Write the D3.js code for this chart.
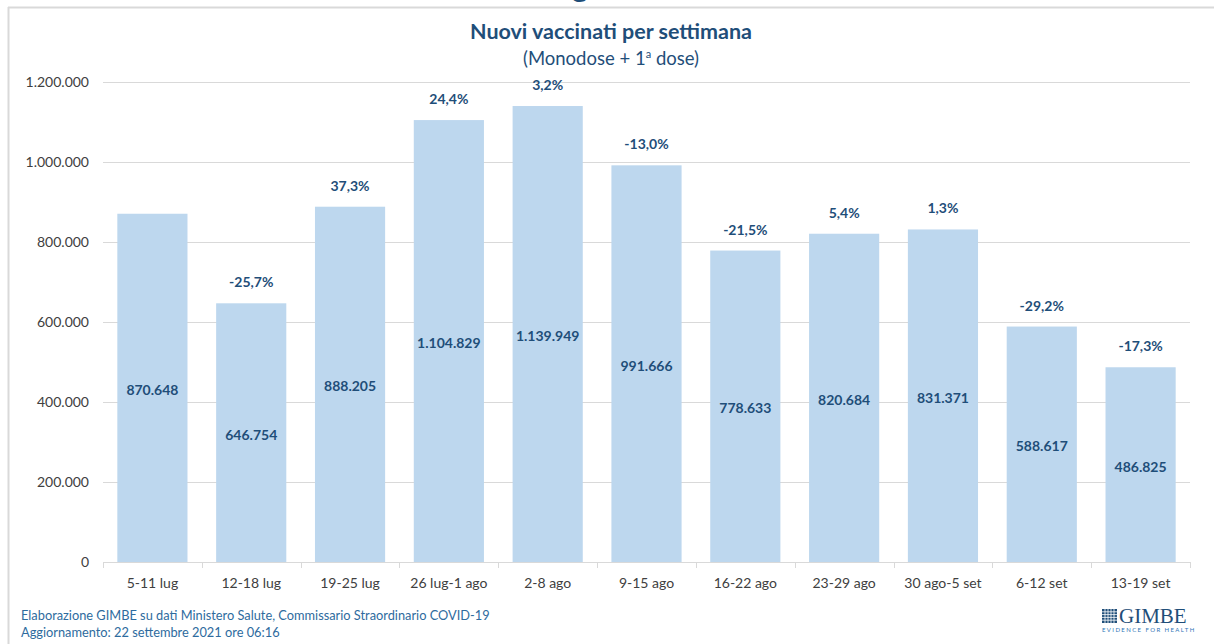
<!DOCTYPE html>
<html>
<head>
<meta charset="utf-8">
<script src="https://cdn.jsdelivr.net/npm/d3@7"></script>
<style>
  body { margin: 0; background: #fff; }
  text { font-family: Lato, "Open Sans", sans-serif; }
</style>
</head>
<body>
<div id="chart"></div>
<script>
const weeks = ['5-11 lug', '12-18 lug', '19-25 lug', '26 lug-1 ago', '2-8 ago', '9-15 ago', '16-22 ago', '23-29 ago', '30 ago-5 set', '6-12 set', '13-19 set'];
const vaccinated = [870648, 646754, 888205, 1104829, 1139949, 991666, 778633, 820684, 831371, 588617, 486825];
const changes = ['', '-25,7%', '37,3%', '24,4%', '3,2%', '-13,0%', '-21,5%', '5,4%', '1,3%', '-29,2%', '-17,3%'];
const yTicks = [0, 200000, 400000, 600000, 800000, 1000000, 1200000];

const fullWidth = 1214;
const fullHeight = 644;
const plot = { left: 103, right: 1190, top: 82, bottom: 562 };
const dark = '#1f4e79';

const fmt = d3.formatLocale({ decimal: ',', thousands: '.', grouping: [3], currency: ['', '€'] }).format(',d');

const svg = d3.select('#chart')
  .append('svg')
  .attr('width', fullWidth)
  .attr('height', fullHeight);

// frame of the slide
svg.append('line')
  .attr('x1', 8).attr('x2', fullWidth).attr('y1', 7.5).attr('y2', 7.5)
  .attr('stroke', '#d9d9d9').attr('stroke-width', 2);
svg.append('line')
  .attr('x1', 8.5).attr('x2', 8.5).attr('y1', 7).attr('y2', fullHeight)
  .attr('stroke', '#d9d9d9').attr('stroke-width', 2);

// clipped heading from the slide above (only a descender shows)
svg.append('text')
  .attr('x', 580).attr('y', -3)
  .attr('text-anchor', 'middle')
  .attr('fill', dark)
  .style('font-size', '30px')
  .style('font-weight', 'bold')
  .text('g');

svg.append('text')
  .attr('x', 611).attr('y', 39)
  .attr('text-anchor', 'middle')
  .attr('fill', dark)
  .style('font-size', '21.5px')
  .style('font-weight', 'bold')
  .text('Nuovi vaccinati per settimana');

const sub = svg.append('text')
  .attr('x', 611).attr('y', 65)
  .attr('text-anchor', 'middle')
  .attr('fill', dark)
  .style('font-size', '18.5px');
sub.append('tspan').text('(Monodose + 1');
sub.append('tspan').attr('dy', -7).style('font-size', '11px').text('a');
sub.append('tspan').attr('dy', 7).text(' dose)');

const xScale = d3.scaleBand()
  .domain(weeks)
  .range([plot.left, plot.right])
  .paddingInner(0.29)
  .paddingOuter(0.145);

const yScale = d3.scaleLinear()
  .domain([0, 1200000])
  .range([plot.bottom, plot.top]);

// gridlines
svg.append('g')
  .selectAll('line')
  .data(yTicks.slice(1))
  .enter()
  .append('line')
  .attr('x1', plot.left).attr('x2', plot.right)
  .attr('y1', d => Math.round(yScale(d)) + 0.5)
  .attr('y2', d => Math.round(yScale(d)) + 0.5)
  .attr('stroke', '#d9d9d9');

const yAxis = d3.axisLeft(yScale)
  .tickValues(yTicks)
  .tickFormat(fmt)
  .tickSize(0)
  .tickPadding(14);

svg.append('g')
  .attr('transform', `translate(${plot.left}, 0)`)
  .call(yAxis)
  .call(g => g.select('.domain').remove())
  .call(g => g.selectAll('text')
    .attr('fill', '#404040')
    .style('font-size', '14px')
    .style('font-family', 'Lato, sans-serif'));

svg.selectAll('rect.bar')
  .data(vaccinated)
  .enter()
  .append('rect')
  .attr('class', 'bar')
  .attr('x', (d, i) => xScale(weeks[i]))
  .attr('y', d => yScale(d))
  .attr('width', xScale.bandwidth())
  .attr('height', d => yScale(0) - yScale(d))
  .attr('fill', '#bdd7ee');

// x axis with category boundary ticks
const step = xScale.step();
const xLine = svg.append('g');
xLine.append('line')
  .attr('x1', plot.left).attr('x2', plot.right)
  .attr('y1', plot.bottom + 0.5).attr('y2', plot.bottom + 0.5)
  .attr('stroke', '#d9d9d9');
xLine.selectAll('line.tick')
  .data(d3.range(weeks.length + 1))
  .enter()
  .append('line')
  .attr('class', 'tick')
  .attr('x1', i => Math.round(plot.left + i * step) + 0.5)
  .attr('x2', i => Math.round(plot.left + i * step) + 0.5)
  .attr('y1', plot.bottom).attr('y2', plot.bottom + 6)
  .attr('stroke', '#d9d9d9');

svg.append('g')
  .selectAll('text')
  .data(weeks)
  .enter()
  .append('text')
  .attr('x', d => xScale(d) + xScale.bandwidth() / 2)
  .attr('y', 588)
  .attr('text-anchor', 'middle')
  .attr('fill', '#404040')
  .style('font-size', '14px')
  .text(d => d);

// value labels inside bars
svg.append('g')
  .selectAll('text')
  .data(vaccinated)
  .enter()
  .append('text')
  .attr('x', (d, i) => xScale(weeks[i]) + xScale.bandwidth() / 2)
  .attr('y', d => (yScale(d) + yScale(0)) / 2 + 7)
  .attr('text-anchor', 'middle')
  .attr('fill', dark)
  .style('font-size', '14px')
  .style('font-weight', 'bold')
  .text(fmt);

// weekly change above bars
svg.append('g')
  .selectAll('text')
  .data(changes)
  .enter()
  .append('text')
  .attr('x', (d, i) => xScale(weeks[i]) + xScale.bandwidth() / 2)
  .attr('y', (d, i) => yScale(vaccinated[i]) - 16)
  .attr('text-anchor', 'middle')
  .attr('fill', dark)
  .style('font-size', '14px')
  .style('font-weight', 'bold')
  .text(d => d);

// footer
const foot = svg.append('g').attr('fill', '#2e6b9e').style('font-size', '12.8px');
foot.append('text').attr('x', 21).attr('y', 620)
  .text('Elaborazione GIMBE su dati Ministero Salute, Commissario Straordinario COVID-19');
foot.append('text').attr('x', 21).attr('y', 637)
  .text('Aggiornamento: 22 settembre 2021 ore 06:16');

// logo
const logo = svg.append('g').attr('transform', 'translate(1102, 609)');
const grid = logo.append('g');
grid.append('rect').attr('width', 15).attr('height', 14).attr('fill', '#1f4e79');
grid.selectAll('line.v')
  .data(d3.range(1, 5))
  .enter()
  .append('line')
  .attr('x1', d => d * 3).attr('x2', d => d * 3)
  .attr('y1', 0).attr('y2', 14)
  .attr('stroke', '#fff').attr('stroke-width', 0.8);
grid.selectAll('line.h')
  .data(d3.range(1, 5))
  .enter()
  .append('line')
  .attr('x1', 0).attr('x2', 15)
  .attr('y1', d => d * 2.8).attr('y2', d => d * 2.8)
  .attr('stroke', '#fff').attr('stroke-width', 0.8);
logo.append('text')
  .attr('x', 17).attr('y', 14)
  .attr('fill', '#1f4e79')
  .style('font-family', '"Liberation Serif", serif')
  .style('font-size', '21px')
  .text('GIMBE');
logo.append('text')
  .attr('x', 0).attr('y', 23)
  .attr('fill', '#2e75b6')
  .style('font-size', '6px')
  .style('letter-spacing', '1.4px')
  .text('EVIDENCE FOR HEALTH');
</script>
</body>
</html>
